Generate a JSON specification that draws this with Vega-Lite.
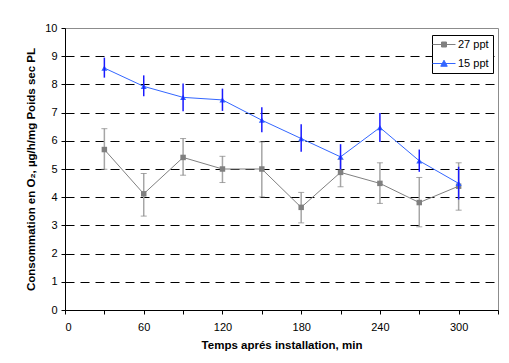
{
  "$schema": "https://vega.github.io/schema/vega-lite/v6.json",
  "width": 433,
  "height": 282,
  "autosize": {"type": "none"},
  "padding": {"left": 65, "top": 28, "right": 11, "bottom": 53},
  "background": "white",
  "config": {
    "font": "Liberation Sans",
    "view": {"stroke": "#8c8c8c", "strokeWidth": 1},
    "axis": {
      "domainColor": "black",
      "tickColor": "black",
      "tickSize": 4,
      "labelFont": "Liberation Sans",
      "labelFontSize": 11,
      "labelColor": "black",
      "titleFont": "Liberation Sans",
      "titleFontSize": 11.5,
      "titleFontWeight": "bold",
      "titleColor": "black"
    }
  },
  "data": {
    "values": [
      {"t": 30, "series": "15 ppt", "v": 8.58, "lo": 8.24, "hi": 8.95},
      {"t": 60, "series": "15 ppt", "v": 7.93, "lo": 7.58, "hi": 8.32},
      {"t": 90, "series": "15 ppt", "v": 7.54, "lo": 7.05, "hi": 8.03},
      {"t": 120, "series": "15 ppt", "v": 7.45, "lo": 7.06, "hi": 7.85},
      {"t": 150, "series": "15 ppt", "v": 6.73, "lo": 6.30, "hi": 7.19},
      {"t": 180, "series": "15 ppt", "v": 6.08, "lo": 5.61, "hi": 6.59},
      {"t": 210, "series": "15 ppt", "v": 5.43, "lo": 4.98, "hi": 5.88},
      {"t": 240, "series": "15 ppt", "v": 6.47, "lo": 5.96, "hi": 6.99},
      {"t": 270, "series": "15 ppt", "v": 5.29, "lo": 4.90, "hi": 5.69},
      {"t": 300, "series": "15 ppt", "v": 4.49, "lo": 3.92, "hi": 5.08},
      {"t": 30, "series": "27 ppt", "v": 5.69, "lo": 4.99, "hi": 6.43},
      {"t": 60, "series": "27 ppt", "v": 4.12, "lo": 3.33, "hi": 4.84},
      {"t": 90, "series": "27 ppt", "v": 5.41, "lo": 4.78, "hi": 6.08},
      {"t": 120, "series": "27 ppt", "v": 5.00, "lo": 4.52, "hi": 5.45},
      {"t": 150, "series": "27 ppt", "v": 5.00, "lo": 4.01, "hi": 5.96},
      {"t": 180, "series": "27 ppt", "v": 3.64, "lo": 3.09, "hi": 4.17},
      {"t": 210, "series": "27 ppt", "v": 4.88, "lo": 4.37, "hi": 5.34},
      {"t": 240, "series": "27 ppt", "v": 4.49, "lo": 3.78, "hi": 5.22},
      {"t": 270, "series": "27 ppt", "v": 3.81, "lo": 2.95, "hi": 4.70},
      {"t": 300, "series": "27 ppt", "v": 4.39, "lo": 3.54, "hi": 5.22}
    ]
  },
  "encoding": {
    "x": {
      "field": "t",
      "type": "quantitative",
      "scale": {"domain": [0, 330], "nice": false},
      "axis": {
        "title": "Temps aprés installation, min",
        "values": [0, 30, 60, 90, 120, 150, 180, 210, 240, 270, 300, 330],
        "labelExpr": "datum.value % 60 === 0 && datum.value <= 300 ? datum.label : ''",
        "grid": false,
        "labelPadding": 7,
        "titlePadding": 7
      }
    }
  },
  "layer": [
    {
      "transform": [{"filter": "datum.series === '27 ppt'"}],
      "mark": {"type": "rule", "color": "#a6a6a6", "strokeWidth": 1.5},
      "encoding": {
        "y": {
          "field": "lo",
          "type": "quantitative",
          "scale": {"domain": [0, 10], "nice": false},
          "axis": {
            "title": "Consommation en O₂, µg/h/mg Poids sec PL",
            "values": [0, 1, 2, 3, 4, 5, 6, 7, 8, 9, 10],
            "grid": true,
            "gridDash": [9, 6],
            "gridColor": {"condition": {"test": "datum.value === 10", "value": "#8c8c8c"}, "value": "black"},
            "gridWidth": 1,
            "labelPadding": 4,
            "titlePadding": 8
          }
        },
        "y2": {"field": "hi"}
      }
    },
    {
      "transform": [{"filter": "datum.series === '27 ppt'"}],
      "mark": {"type": "tick", "orient": "horizontal", "size": 6, "thickness": 1, "color": "#808080"},
      "encoding": {
        "y": {
          "field": "lo",
          "type": "quantitative",
          "axis": {
            "title": "Consommation en O₂, µg/h/mg Poids sec PL",
            "values": [0, 1, 2, 3, 4, 5, 6, 7, 8, 9, 10],
            "grid": true,
            "gridDash": [9, 6],
            "gridColor": {"condition": {"test": "datum.value === 10", "value": "#8c8c8c"}, "value": "black"},
            "gridWidth": 1,
            "labelPadding": 4,
            "titlePadding": 8
          }
        }
      }
    },
    {
      "transform": [{"filter": "datum.series === '27 ppt'"}],
      "mark": {"type": "tick", "orient": "horizontal", "size": 6, "thickness": 1, "color": "#808080"},
      "encoding": {
        "y": {
          "field": "hi",
          "type": "quantitative",
          "axis": {
            "title": "Consommation en O₂, µg/h/mg Poids sec PL",
            "values": [0, 1, 2, 3, 4, 5, 6, 7, 8, 9, 10],
            "grid": true,
            "gridDash": [9, 6],
            "gridColor": {"condition": {"test": "datum.value === 10", "value": "#8c8c8c"}, "value": "black"},
            "gridWidth": 1,
            "labelPadding": 4,
            "titlePadding": 8
          }
        }
      }
    },
    {
      "mark": {"type": "line", "strokeWidth": 1},
      "encoding": {
        "y": {
          "field": "v",
          "type": "quantitative",
          "axis": {
            "title": "Consommation en O₂, µg/h/mg Poids sec PL",
            "values": [0, 1, 2, 3, 4, 5, 6, 7, 8, 9, 10],
            "grid": true,
            "gridDash": [9, 6],
            "gridColor": {"condition": {"test": "datum.value === 10", "value": "#8c8c8c"}, "value": "black"},
            "gridWidth": 1,
            "labelPadding": 4,
            "titlePadding": 8
          }
        },
        "color": {
          "field": "series",
          "type": "nominal",
          "scale": {"domain": ["27 ppt", "15 ppt"], "range": ["#808080", "#3366ff"]},
          "legend": {
            "title": null,
            "orient": "none",
            "legendX": 367,
            "legendY": 7,
            "padding": 4,
            "rowPadding": 7,
            "strokeColor": "black",
            "fillColor": "white",
            "symbolSize": 100,
            "symbolStrokeWidth": 1,
            "labelFontSize": 11,
            "labelColor": "black",
            "labelFont": "Liberation Sans",
            "labelOffset": 11,
            "encode": {
              "symbols": {
                "update": {
                  "shape": {"signal": "datum.value === '27 ppt' ? 'M-1.8,0H2.8M0,-0.5H1V0.5H0Z' : 'M-1.8,0H2.8M0.5,-0.65L1.15,0.55H-0.15Z'"},
                  "fill": {"signal": "scale('color', datum.value)"},
                  "stroke": {"signal": "scale('color', datum.value)"},
                  "strokeWidth": {"value": 1}
                }
              }
            }
          }
        }
      }
    },
    {
      "transform": [{"filter": "datum.series === '27 ppt'"}],
      "mark": {"type": "point", "filled": true, "opacity": 1, "shape": "square", "color": "#808080", "size": 30},
      "encoding": {
        "y": {
          "field": "v",
          "type": "quantitative",
          "axis": {
            "title": "Consommation en O₂, µg/h/mg Poids sec PL",
            "values": [0, 1, 2, 3, 4, 5, 6, 7, 8, 9, 10],
            "grid": true,
            "gridDash": [9, 6],
            "gridColor": {"condition": {"test": "datum.value === 10", "value": "#8c8c8c"}, "value": "black"},
            "gridWidth": 1,
            "labelPadding": 4,
            "titlePadding": 8
          }
        }
      }
    },
    {
      "transform": [{"filter": "datum.series === '15 ppt'"}],
      "mark": {"type": "point", "filled": true, "opacity": 1, "shape": "triangle-up", "color": "#3366ff", "size": 36},
      "encoding": {
        "y": {
          "field": "v",
          "type": "quantitative",
          "axis": {
            "title": "Consommation en O₂, µg/h/mg Poids sec PL",
            "values": [0, 1, 2, 3, 4, 5, 6, 7, 8, 9, 10],
            "grid": true,
            "gridDash": [9, 6],
            "gridColor": {"condition": {"test": "datum.value === 10", "value": "#8c8c8c"}, "value": "black"},
            "gridWidth": 1,
            "labelPadding": 4,
            "titlePadding": 8
          }
        }
      }
    },
    {
      "transform": [{"filter": "datum.series === '15 ppt'"}],
      "mark": {"type": "rule", "color": "#1a1aff", "strokeWidth": 1.5},
      "encoding": {
        "y": {
          "field": "lo",
          "type": "quantitative",
          "axis": {
            "title": "Consommation en O₂, µg/h/mg Poids sec PL",
            "values": [0, 1, 2, 3, 4, 5, 6, 7, 8, 9, 10],
            "grid": true,
            "gridDash": [9, 6],
            "gridColor": {"condition": {"test": "datum.value === 10", "value": "#8c8c8c"}, "value": "black"},
            "gridWidth": 1,
            "labelPadding": 4,
            "titlePadding": 8
          }
        },
        "y2": {"field": "hi"}
      }
    }
  ]
}
